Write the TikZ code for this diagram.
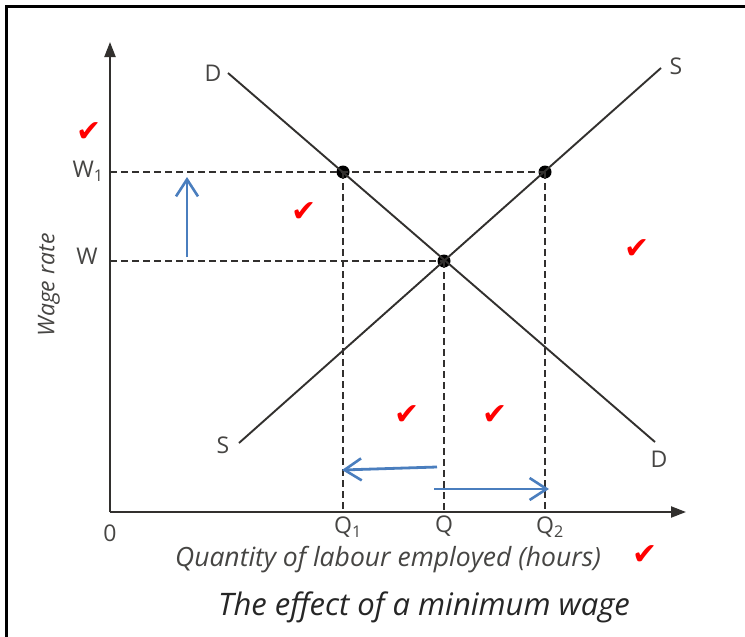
\documentclass[tikz,border=0pt]{standalone}
\usepackage{fontspec}
\setmainfont{Open Sans}
\newfontfamily\symfont{DejaVu Sans}
\usetikzlibrary{arrows.meta}
\definecolor{inkc}{RGB}{50,48,46}
\definecolor{bluec}{RGB}{74,126,190}
\begin{document}
\begin{tikzpicture}[x=1pt,y=-1pt,
  axisline/.style={draw=inkc,line width=2.2pt,-{Triangle[length=15pt,width=11pt]}},
  curve/.style={draw=inkc,line width=1.9pt},
  guide/.style={draw=inkc,line width=1.8pt,dash pattern=on 7pt off 4pt},
  dotnode/.style={circle,fill=black,inner sep=0pt,minimum size=13pt},
  lab/.style={font=\fontsize{23}{25}\selectfont,text=inkc!90,inner sep=0pt},
  shiftarrow/.style={draw=bluec,line width=2.8pt,-{Straight Barb[length=17pt,width=22pt,line width=2.6pt]}},
  tick/.style={text=red,font=\symfont\fontsize{30}{32}\selectfont,inner sep=0pt}]
\useasboundingbox (0,0) rectangle (745,637);
\fill[white] (0,0) rectangle (745,637);
% frame
\draw[line width=3pt,black] (6,637) -- (6,6) -- (745,6);
% axes
\coordinate (O) at (110,512);
\coordinate (ytop) at (110,42);
\coordinate (xend) at (686,512);
\draw[axisline] (O) -- (ytop);
\draw[axisline] (O) -- (xend);
% reference coordinates
\coordinate (Dstart) at (228,73);
\coordinate (Dend) at (655,442);
\coordinate (Sstart) at (239,443);
\coordinate (Send) at (661,68);
\coordinate (yW1) at (110,172);
\coordinate (yW) at (110,261);
\coordinate (xQ1) at (343,512);
\coordinate (xQ) at (444,512);
\coordinate (xQ2) at (545,512);
% dots
\node[dotnode] (A) at (343,172) {};
\node[dotnode] (E) at (444,261) {};
\node[dotnode] (B) at (545,172) {};
% guides
\draw[guide] (yW1) -- (B.center);
\draw[guide] (yW) -- (E.center);
\draw[guide] (A.center) -- (xQ1);
\draw[guide] (E.center) -- (xQ);
\draw[guide] (B.center) -- (xQ2);
% curves
\draw[curve] (Dstart) -- (Dend);
\draw[curve] (Sstart) -- (Send);
% labels
\node[lab] (lD1) at (213,73) {D};
\node[lab] (lD2) at (659,459) {D};
\node[lab] (lS1) at (223,445) {S};
\node[lab] (lS2) at (676,66) {S};
\node[lab] (lW1) at (88,171) {W\textsubscript{1}};
\node[lab] (lW) at (87,256) {W};
\node[lab] (lzero) at (110,533) {0};
\node[lab] (lQ1) at (348,527) {Q\textsubscript{1}};
\node[lab] (lQ) at (444,526) {Q};
\node[lab] (lQ2) at (550,527) {Q\textsubscript{2}};
\node[lab,rotate=90,font=\itshape\fontsize{23}{25}\selectfont] (ylab) at (49,285) {Wage rate};
\node[lab,font=\itshape\fontsize{26.5}{28}\selectfont] (xlab) at (388,560) {Quantity of labour employed (hours)};
\node[lab,font=\itshape\fontsize{31}{34}\selectfont,text=black!85] (title) at (424,607) {The effect of a minimum wage};
% blue shifts
\coordinate (up0) at (187,257);
\coordinate (up1) at (187,177);
\coordinate (lf0) at (437,467);
\coordinate (lf1) at (342,470);
\coordinate (rt0) at (434,489);
\coordinate (rt1) at (549,489);
\draw[shiftarrow] (up0) -- (up1);
\draw[shiftarrow] (lf0) -- (lf1);
\draw[shiftarrow] (rt0) -- (rt1);
% ticks
\node[tick] (t1) at (89,132) {✔};
\node[tick] (t2) at (304,212) {✔};
\node[tick] (t3) at (637,249) {✔};
\node[tick] (t4) at (407,415) {✔};
\node[tick] (t5) at (495,415) {✔};
\node[tick] (t6) at (645,555) {✔};
\end{tikzpicture}
\end{document}
